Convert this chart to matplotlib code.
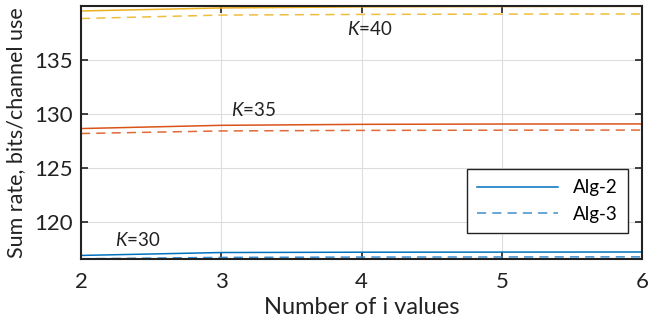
import numpy as np
import matplotlib.pyplot as plt

plt.rcParams['font.family'] = ['Lato', 'DejaVu Sans']
plt.rcParams['mathtext.fontset'] = 'custom'
plt.rcParams['mathtext.it'] = 'Lato:italic'
plt.rcParams['mathtext.rm'] = 'Lato'

n_vals = [2, 3, 4, 5, 6]
# Alg-2 (solid) and Alg-3 (dashed) for each K
k30_alg2 = [116.88, 117.15, 117.18, 117.19, 117.2]
k30_alg3 = [116.57, 116.70, 116.73, 116.74, 116.75]
k35_alg2 = [128.64, 128.94, 129.03, 129.06, 129.07]
k35_alg3 = [128.18, 128.42, 128.47, 128.49, 128.5]
k40_alg2 = [139.54, 139.82, 139.92, 139.95, 139.97]
k40_alg3 = [138.84, 139.16, 139.22, 139.25, 139.26]

c_blue = '#0072BD'
c_orange = '#D95319'
c_yellow = '#EDB120'

fig = plt.figure(figsize=(6.48, 3.2), dpi=100)
ax = fig.add_axes([81/648, 1 - 259/320, 561/648, 253/320])

ax.plot(n_vals, k30_alg2, color=c_blue, lw=1.1, label='Alg-2')
ax.plot(n_vals, k30_alg3, color='#3a8fd0', lw=1.1, ls=(0, (6, 4)), label='Alg-3')
ax.plot(n_vals, k35_alg2, color=c_orange, lw=1.1)
ax.plot(n_vals, k35_alg3, color='#e06a38', lw=1.1, ls=(0, (6, 4)))
ax.plot(n_vals, k40_alg2, color=c_yellow, lw=1.1)
ax.plot(n_vals, k40_alg3, color='#efbd40', lw=1.1, ls=(0, (6, 4)))

ax.text(3.9, 137.87, '$K$=40', fontsize=13.5, va='center', color='#222222')
ax.text(3.07, 130.37, '$K$=35', fontsize=13.5, va='center', color='#222222')
ax.text(2.24, 118.33, '$K$=30', fontsize=13.5, va='center', color='#222222')

ax.set_xlim(2, 6)
ax.set_ylim(116.55, 140)
ax.set_xticks([2, 3, 4, 5, 6])
ax.set_yticks([120, 125, 130, 135])
ax.grid(True, color='#dddddd', lw=0.8)
ax.tick_params(direction='in', top=True, right=True, labelsize=16, length=5, width=1.2, colors='#222222')
ax.tick_params(axis='x', pad=9)
ax.tick_params(axis='y', pad=6)
for s in ax.spines.values():
    s.set_linewidth(1.5)
    s.set_color('#222222')

ax.set_xlabel('Number of i values', fontsize=17, color='#222222', labelpad=4)
ax.set_ylabel('Sum rate, bits/channel use', fontsize=15.5, color='#222222', labelpad=6)

leg = ax.legend(loc='upper right', bbox_to_anchor=(0.975, 0.356), borderaxespad=0,
                fontsize=13.5, fancybox=False, edgecolor='#222222', framealpha=1,
                handlelength=4.3, borderpad=0.55, labelspacing=0.5)
leg.get_frame().set_linewidth(1.0)

fig.savefig('out.png', dpi=100)
